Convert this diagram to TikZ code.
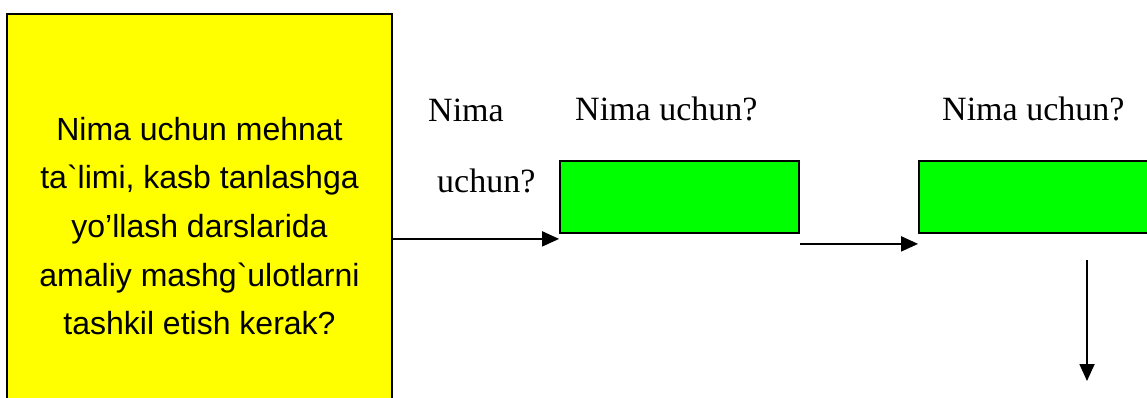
\documentclass[tikz,border=0pt]{standalone}
\usepackage{fontspec}
\setmainfont{Liberation Serif}
\newfontfamily\boxfont{Liberation Sans}
\usetikzlibrary{arrows.meta}
\definecolor{qyellow}{HTML}{FFFF00}
\definecolor{qgreen}{HTML}{00FF00}
\tikzset{
  qbox/.style={draw=black, line width=1.8pt, fill=qyellow, minimum width=385pt, minimum height=424pt, inner sep=0pt, align=center, font=\boxfont\fontsize{32}{48.7}\selectfont},
  gbox/.style={draw=black, line width=1.8pt, fill=qgreen, minimum height=72pt, inner sep=0pt},
  lbl/.style={anchor=base west, inner sep=0pt, font=\fontsize{34}{40}\selectfont},
  arr/.style={line width=1.8pt, -{Triangle[length=17pt,width=15pt]}}
}
\begin{document}
\begin{tikzpicture}[x=1pt,y=-1pt]
\useasboundingbox (0,0) rectangle (1147,398);
\clip (0,0) rectangle (1147,398);
\node[qbox] (q) at (199.5,226) {Nima uchun mehnat\\ta\textasciigrave limi, kasb tanlashga\\yo’llash darslarida\\amaliy mashg\textasciigrave ulotlarni\\tashkil etish kerak?};
\node[gbox, minimum width=239pt] (g1) at (679.5,197) {};
\node[gbox, minimum width=250pt] (g2) at (1044,197) {};
\node[lbl] (l1) at (428,122) {Nima};
\node[lbl] (l2) at (437,192) {uchun?};
\node[lbl] (l3) at (575,121) {Nima uchun?};
\node[lbl] (l4) at (942,121) {Nima uchun?};
\coordinate (a1) at ([yshift=-5pt]g1.south west);
\coordinate (a2s) at ([yshift=-10pt]g1.south east);
\coordinate (a2e) at ([yshift=-10pt]g2.south west);
\coordinate (a3s) at (1087,260);
\coordinate (a3e) at (1087,381);
\draw[arr] (q.east |- a1) -- (a1);
\draw[arr] (a2s) -- (a2e);
\draw[arr] (a3s) -- (a3e);
\end{tikzpicture}
\end{document}
